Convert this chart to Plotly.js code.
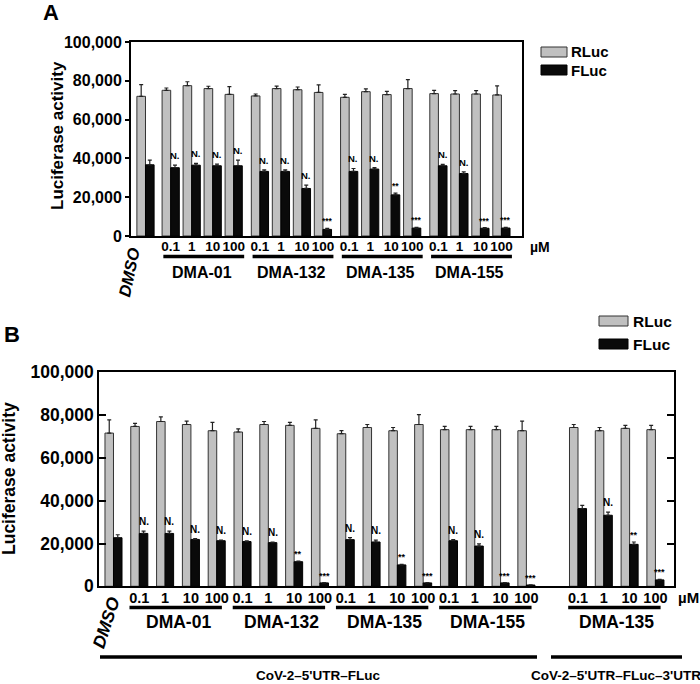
<!DOCTYPE html>
<html>
<head>
<meta charset="utf-8">
<script src="https://cdn.plot.ly/plotly-3.0.1.min.js"></script>
<style>html,body{margin:0;padding:0;background:#fff}#chart{width:700px;height:684px}</style>
</head>
<body>
<div id="chart"></div>
<script>
// ---------- data ----------
const concLabels = ['0.1', '1', '10', '100'];
const groupsA = ['DMA-01', 'DMA-132', 'DMA-135', 'DMA-155'];
const groupsB = ['DMA-01', 'DMA-132', 'DMA-135', 'DMA-155', 'DMA-135'];
const constructLabels = ['CoV-2\u20135\'UTR\u2013FLuc', 'CoV-2\u20135\'UTR\u2013FLuc\u20133\'UTR'];

// Panel A (DMSO first, then 4 compounds x 4 concentrations)
const rlucA    = [72000, 75100, 77500, 76000, 73000, 72200, 76000, 75400, 74000, 71500, 74400, 72900, 76000, 73400, 73200, 73200, 72700];
const rlucErrA = [6000, 1200, 2000, 1200, 4000, 1000, 1300, 1400, 3900, 1500, 1400, 1700, 4600, 1700, 1700, 1700, 4700];
const flucA    = [36700, 35200, 36500, 36200, 36200, 33300, 33300, 24500, 3400, 33300, 34500, 21200, 4100, 36200, 32200, 4000, 4100];
const flucErrA = [2400, 1300, 900, 800, 2900, 800, 800, 1700, 600, 1500, 700, 900, 400, 700, 900, 300, 400];
const sigA     = ['', 'N.', 'N.', 'N.', 'N.', 'N.', 'N.', 'N.', '***', 'N.', 'N.', '**', '***', 'N.', 'N.', '***', '***'];

// Panel B (DMSO, 4 compounds x 4 conc. on 5'UTR-FLuc, then DMA-135 x 4 on 5'UTR-FLuc-3'UTR)
const rlucB    = [71600, 74700, 77000, 75600, 72700, 72100, 75600, 75200, 73800, 71300, 74200, 72700, 75600, 73200, 73200, 73200, 72700, 74200, 72700, 73800, 73200];
const rlucErrB = [6200, 1400, 2200, 1600, 3900, 1500, 1400, 1400, 4000, 1400, 1400, 1500, 4600, 1500, 1500, 1500, 4500, 1400, 1500, 1400, 2000];
const flucB    = [22700, 24700, 24700, 21900, 21300, 20900, 20400, 11500, 1600, 21800, 20700, 10000, 1600, 21300, 18800, 1600, 600, 36300, 33200, 19600, 3000];
const flucErrB = [1400, 1100, 1100, 400, 300, 300, 300, 300, 150, 900, 900, 300, 150, 500, 1000, 150, 100, 1500, 1500, 1100, 300];
const sigB     = ['', 'N.', 'N.', 'N.', 'N.', 'N.', 'N.', '**', '***', 'N.', 'N.', '**', '***', 'N.', 'N.', '***', '***', '', 'N.', '**', '***'];

// ---------- layout helpers ----------
const W = 700, H = 684;
const px = v => v / W;
const py = v => 1 - v / H;
const fam = '"Liberation Sans", Arial, Helvetica, sans-serif';
const gray = '#c0c0c0', black = '#0a0a0a', edge = '#333333';

// bar slot positions
const posA = [0];
groupsA.forEach((g, gi) => concLabels.forEach((c, ci) => posA.push(1.2 + 4.25 * gi + ci)));
const posB = rlucB.map((v, i) => i <= 16 ? i : i + 1);
const bwA = 0.41, bwB = 0.33;

function barPair(pos, rl, rle, fl, fle, bw, xa, ya) {
  const zeros = rl.map(() => 0);
  const common = {type: 'bar', x: pos, xaxis: xa, yaxis: ya, width: bw, showlegend: false, hoverinfo: 'y'};
  return [
    Object.assign({}, common, {name: 'RLuc', y: rl, offset: -bw,
      marker: {color: gray, line: {color: edge, width: 1}},
      error_y: {type: 'data', symmetric: false, array: rle, arrayminus: zeros, color: '#222', thickness: 1.2, width: 2}}),
    Object.assign({}, common, {name: 'FLuc', y: fl, offset: 0,
      marker: {color: black, line: {color: '#000', width: 1}},
      error_y: {type: 'data', symmetric: false, array: fle, arrayminus: zeros, color: '#222', thickness: 1.2, width: 2}})
  ];
}

const data = [].concat(
  barPair(posA, rlucA, rlucErrA, flucA, flucErrA, bwA, 'x', 'y'),
  barPair(posB, rlucB, rlucErrB, flucB, flucErrB, bwB, 'x2', 'y2')
);

const annotations = [];
const shapes = [];
function txt(t, x, y, size, opts) {
  annotations.push(Object.assign({text: t, x: x, y: y, xref: 'paper', yref: 'paper', showarrow: false,
    xanchor: 'center', yanchor: 'middle', font: {family: fam, size: size, color: '#000'}}, opts || {}));
}

// significance marks
function sigMarks(pos, fl, fle, sig, bw, xa, ya, size) {
  sig.forEach((s, i) => {
    if (!s) return;
    annotations.push({text: '<b>' + s + '</b>', x: pos[i] + bw / 2, y: fl[i] + fle[i], xref: xa, yref: ya,
      showarrow: false, xanchor: 'center', yanchor: 'bottom', yshift: s === 'N.' ? 2 : 0,
      font: {family: fam, size: s === 'N.' ? size : size - 1, color: '#000'}});
  });
}
sigMarks(posA, flucA, flucErrA, sigA, bwA, 'x', 'y', 9.5);
sigMarks(posB, flucB, flucErrB, sigB, bwB, 'x2', 'y2', 10);

// group underlines and names
function groups(pos, names, start, ext0, ext1, lineY, nameY, xa, size) {
  names.forEach((n, gi) => {
    const i0 = start[gi], i1 = i0 + 3;
    shapes.push({type: 'line', xref: xa, yref: 'paper', x0: pos[i0] - ext0, x1: pos[i1] + ext1,
      y0: py(lineY), y1: py(lineY), line: {color: '#000', width: 3.5}});
    annotations.push({text: '<b>' + n + '</b>', x: (pos[i0] + pos[i1]) / 2, y: py(nameY), xref: xa, yref: 'paper',
      showarrow: false, xanchor: 'center', yanchor: 'middle', font: {family: fam, size: size, color: '#000'}});
  });
}
groups(posA, groupsA, [1, 5, 9, 13], 0.35, 0.5, 256.5, 272, 'x', 16);
groups(posB, groupsB, [1, 5, 9, 13, 17], 0.38, 0.2, 607.5, 622, 'x2', 17.5);

// construct lines (panel B)
shapes.push({type: 'line', xref: 'paper', yref: 'paper', x0: px(100), x1: px(537), y0: py(657), y1: py(657), line: {color: '#000', width: 3.5}});
shapes.push({type: 'line', xref: 'paper', yref: 'paper', x0: px(551), x1: px(682), y0: py(657), y1: py(657), line: {color: '#000', width: 3.5}});
txt('<b>' + constructLabels[0] + '</b>', px(318), py(675), 13.5);
txt('<b>' + constructLabels[1] + '</b>', px(616), py(675), 13.5);

// DMSO labels, units, titles, panel letters
txt('<b><i>DMSO</i></b>', px(129), py(272), 16.5, {textangle: -78});
txt('<b><i>DMSO</i></b>', px(106), py(623), 17.5, {textangle: -72});
txt('<b>\u00b5M</b>', px(540), py(247), 14);
txt('<b>\u00b5M</b>', px(688), py(597), 15);
txt('<b>Luciferase activity</b>', px(57), py(136), 17, {textangle: -90});
txt('<b>Luciferase activity</b>', px(9), py(479), 17.5, {textangle: -90});
txt('<b>A</b>', px(51), py(13), 22);
txt('<b>B</b>', px(12), py(334), 22);

// manual legends
function legend(x0, x1, yR, yF, tx, size) {
  shapes.push({type: 'rect', xref: 'paper', yref: 'paper', x0: px(x0), x1: px(x1), y0: py(yR + 5), y1: py(yR - 5),
    fillcolor: gray, line: {color: edge, width: 1}});
  shapes.push({type: 'rect', xref: 'paper', yref: 'paper', x0: px(x0), x1: px(x1), y0: py(yF + 5), y1: py(yF - 5),
    fillcolor: black, line: {color: '#000', width: 1}});
  txt('<b>RLuc</b>', px(tx), py(yR), size, {xanchor: 'left'});
  txt('<b>FLuc</b>', px(tx), py(yF), size, {xanchor: 'left'});
}
legend(541, 567, 52, 70, 569, 15);
legend(599, 628, 321, 344, 631, 15.5);

const yTicks = [0, 20000, 40000, 60000, 80000, 100000];
const layout = {
  width: W, height: H,
  margin: {l: 0, r: 0, t: 0, b: 0},
  paper_bgcolor: '#fff', plot_bgcolor: '#fff',
  barmode: 'overlay',
  font: {family: fam, color: '#000'},
  showlegend: false,
  xaxis: {domain: [px(131), px(522)], range: [-0.69, 17.93], anchor: 'y',
    showline: true, mirror: true, linewidth: 2, linecolor: '#000', showgrid: false, zeroline: false,
    ticks: '', tickvals: posA.slice(1), ticktext: posA.slice(1).map((p, i) => concLabels[i % 4]),
    ticklabelstandoff: -3,
    tickfont: {family: fam, size: 13.5, weight: 'bold', color: '#000'}},
  yaxis: {domain: [py(236), py(42)], range: [0, 100000], anchor: 'x',
    showline: true, mirror: true, linewidth: 2, linecolor: '#000', showgrid: false, zeroline: false,
    tickvals: yTicks, tickformat: ',', ticks: 'outside', ticklen: 4, tickwidth: 2, tickcolor: '#000',
    tickfont: {family: fam, size: 16, weight: 'bold', color: '#000'}},
  yaxis3: {overlaying: 'y', side: 'right', anchor: 'x', range: [0, 100000], tickvals: yTicks,
    ticks: 'inside', ticklen: 5, tickwidth: 2, tickcolor: '#000', showticklabels: false,
    showline: false, showgrid: false, zeroline: false},
  xaxis2: {domain: [px(99.3), px(674)], range: [-0.55, 21.72], anchor: 'y2',
    showline: true, mirror: true, linewidth: 2, linecolor: '#000', showgrid: false, zeroline: false,
    ticks: '', tickvals: posB.slice(1),
    ticktext: posB.slice(1).map((p, i) => concLabels[i % 4]),
    ticklabelstandoff: -3,
    tickfont: {family: fam, size: 14.5, weight: 'bold', color: '#000'}},
  yaxis2: {domain: [py(586.3), py(372.3)], range: [0, 100000], anchor: 'x2',
    showline: true, mirror: 'ticks', linewidth: 2, linecolor: '#000', showgrid: false, zeroline: false,
    tickvals: yTicks, tickformat: ',', ticks: 'inside', ticklen: 7, tickwidth: 2, tickcolor: '#000',
    tickfont: {family: fam, size: 17.5, weight: 'bold', color: '#000'}},
  shapes: shapes,
  annotations: annotations
};

Plotly.newPlot('chart', data, layout, {displayModeBar: false, staticPlot: true});
</script>
</body>
</html>
